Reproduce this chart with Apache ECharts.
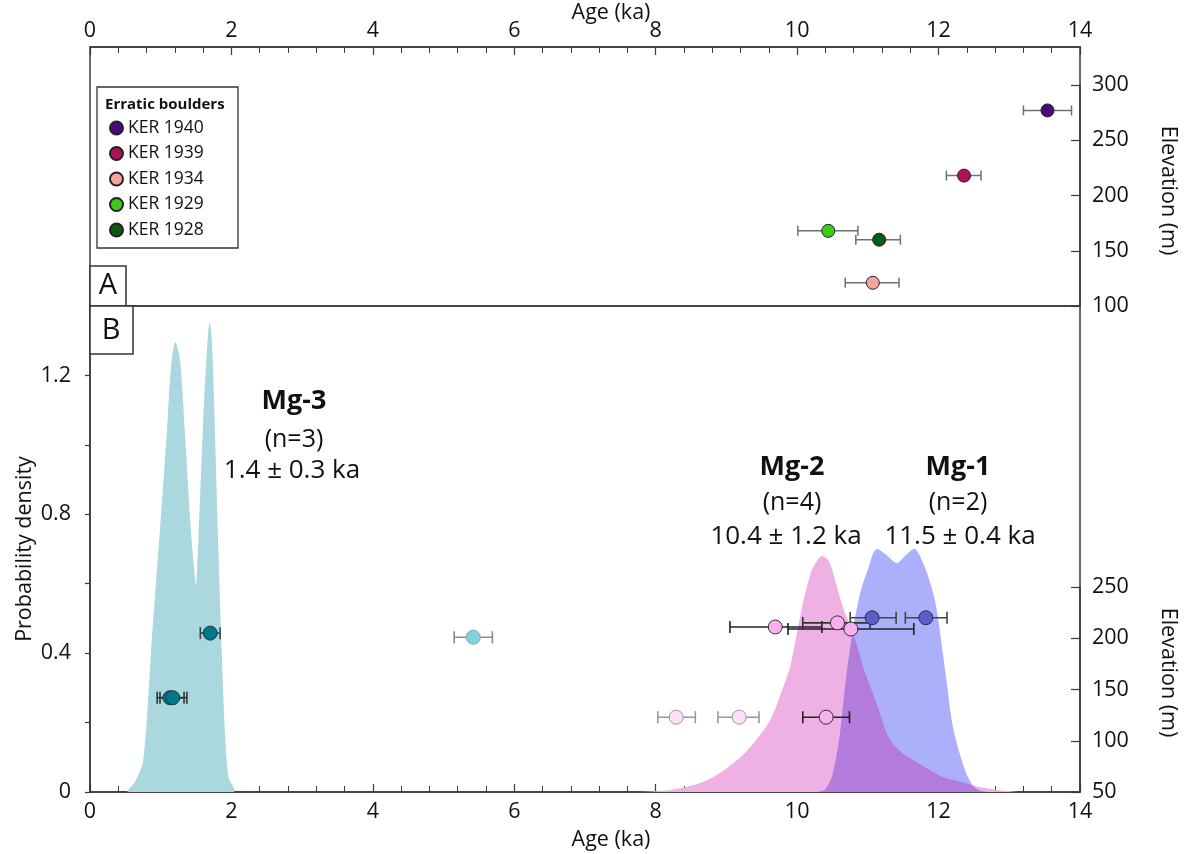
<!DOCTYPE html>
<html><head><meta charset="utf-8">
<script src="https://cdn.jsdelivr.net/npm/echarts@6/dist/echarts.min.js"></script>
<style>html,body{margin:0;padding:0;background:#fff}#chart{width:1192px;height:854px}</style>
</head><body><div id="chart"></div>
<script>
// ---------- Panel A: erratic boulders ----------
const boulderNames = ['KER 1940', 'KER 1939', 'KER 1934', 'KER 1929', 'KER 1928'];
const boulderAge = [13.54, 12.36, 11.07, 10.44, 11.16];
const boulderAgeLow = [13.20, 12.11, 10.68, 10.01, 10.83];
const boulderAgeHigh = [13.88, 12.60, 11.44, 10.86, 11.46];
const boulderElev = [277, 218, 121, 168, 160];

// ---------- Panel B: samples ----------
const sampleAge = [1.13, 1.17, 1.70, 5.42, 9.69, 10.57, 10.76, 11.06, 11.82, 8.29, 9.18, 10.41];
const sampleAgeLow = [0.95, 0.99, 1.56, 5.15, 9.05, 10.08, 9.87, 10.75, 11.53, 8.03, 8.88, 10.08];
const sampleAgeHigh = [1.33, 1.37, 1.84, 5.69, 10.35, 11.03, 11.65, 11.40, 12.12, 8.56, 9.46, 10.74];
const sampleElev = [142, 142, 205, 201, 211, 215, 209, 220, 220, 123, 123, 123];

// ---------- Panel B: probability density curves ----------
const mg3Age = [0.54, 0.64, 0.754, 0.88, 0.985, 1.085, 1.146, 1.207, 1.273, 1.344, 1.414, 1.47, 1.50, 1.532, 1.603, 1.66, 1.693, 1.726, 1.768, 1.815, 1.862, 1.909, 1.957, 2.03];
const mg3Dens = [0, 0.03, 0.092, 0.457, 0.745, 1.03, 1.224, 1.296, 1.243, 1.03, 0.79, 0.648, 0.596, 0.725, 1.08, 1.29, 1.353, 1.29, 1.03, 0.696, 0.409, 0.169, 0.044, 0];
const mg2Age = [7.8, 8.0, 8.2, 8.4, 8.6, 8.8, 9.0, 9.2, 9.4, 9.6, 9.7, 9.8, 9.9, 10.0, 10.1, 10.2, 10.3, 10.36, 10.45, 10.55, 10.65, 10.75, 10.85, 10.95, 11.05, 11.15, 11.3, 11.5, 11.7, 11.9, 12.1, 12.3, 12.5, 12.7, 12.9, 13.1];
const mg2Dens = [0, 0.002, 0.006, 0.013, 0.024, 0.042, 0.068, 0.1, 0.145, 0.2, 0.245, 0.3, 0.36, 0.46, 0.56, 0.635, 0.672, 0.68, 0.665, 0.6, 0.53, 0.48, 0.42, 0.35, 0.295, 0.24, 0.155, 0.11, 0.085, 0.06, 0.04, 0.03, 0.018, 0.01, 0.004, 0];
const mg1Age = [10.3, 10.4, 10.5, 10.6, 10.7, 10.8, 10.9, 11.0, 11.07, 11.13, 11.25, 11.41, 11.55, 11.67, 11.8, 11.9, 11.95, 12.0, 12.1, 12.2, 12.3, 12.4, 12.5, 12.6, 12.7];
const mg1Dens = [0, 0.008, 0.05, 0.16, 0.34, 0.48, 0.58, 0.64, 0.685, 0.70, 0.685, 0.66, 0.685, 0.70, 0.65, 0.59, 0.55, 0.49, 0.34, 0.19, 0.11, 0.05, 0.015, 0.003, 0];

// ---------- styles ----------
const FONT = "'Open Sans', 'Noto Sans', 'DejaVu Sans', sans-serif";
const AX = '#3a3a3a';
const SMOOTH = 0.3;
const boulderColors = ['#4a0a7e', '#b0125a', '#f9a29c', '#3dcc14', '#0b5b0d'];
const sampleFill = ['#007888', '#007888', '#007888', '#7dd3df', '#f9b0ef', '#f9b0ef', '#f9b0ef', '#5a5ec6', '#5a5ec6', '#fde0f8', '#fde0f8', '#f9b0ef'];
const sampleBorder = ['#1a3a40', '#1a3a40', '#1a3a40', '#8aa9ae', '#333', '#333', '#333', '#2a2a5a', '#2a2a5a', '#9a9a9a', '#9a9a9a', '#333'];
const sampleBar = ['#333', '#333', '#444', '#8a8a8a', '#222', '#333', '#222', '#444', '#444', '#999', '#999', '#222'];

function errorBars(xi, yi, lows, highs, elevs, colors, capHalf, width) {
  return {
    type: 'custom', xAxisIndex: xi, yAxisIndex: yi, silent: true, z: 3, clip: false,
    data: lows.map((l, i) => [l, highs[i], elevs[i]]),
    encode: { x: [0, 1], y: 2 },
    renderItem: function (params, api) {
      const lo = api.coord([api.value(0), api.value(2)]);
      const hi = api.coord([api.value(1), api.value(2)]);
      const style = { stroke: colors[params.dataIndex], lineWidth: width, fill: null };
      return { type: 'group', children: [
        { type: 'line', shape: { x1: lo[0], y1: lo[1], x2: hi[0], y2: hi[1] }, style: style },
        { type: 'line', shape: { x1: lo[0], y1: lo[1] - capHalf, x2: lo[0], y2: lo[1] + capHalf }, style: style },
        { type: 'line', shape: { x1: hi[0], y1: hi[1] - capHalf, x2: hi[0], y2: hi[1] + capHalf }, style: style }
      ]};
    }
  };
}

function curvePoints(api, ages, dens) {
  const pts = [];
  for (let i = 0; i < ages.length; i++) pts.push(api.coord([ages[i], dens[i]]));
  return pts;
}

function densityArea(ages, dens, color, z, clipAges, clipDens) {
  const data = ages.map((a, i) => [a, dens[i]]);
  return {
    type: 'custom', xAxisIndex: 2, yAxisIndex: 2, silent: true, z: z, clip: true,
    data: data, encode: { x: 0, y: 1 },
    renderItem: function (params, api) {
      if (params.dataIndex !== 0) return null;
      const el = { type: 'polygon', shape: { points: curvePoints(api, ages, dens), smooth: SMOOTH }, style: { fill: color, stroke: null } };
      if (clipAges) {
        el.clipPath = { type: 'polygon', shape: { points: curvePoints(api, clipAges, clipDens), smooth: SMOOTH } };
      }
      return el;
    }
  };
}

const labelStyle = { fontSize: 21.5, color: '#111', fontFamily: FONT };
function nameStyle(padding) {
  return { fontSize: 21.5, color: '#111', fontFamily: FONT, padding: padding || 0 };
}

function ageAxis(grid, pos, nameGap, margin) {
  return {
    type: 'value', gridIndex: grid, min: 0, max: 14, interval: 2, position: pos,
    splitLine: { show: false },
    axisLine: { show: true, onZero: false, lineStyle: { color: AX, width: 1.5 } },
    axisTick: { show: true, inside: true, length: 8, lineStyle: { color: AX, width: 1.2 } },
    minorTick: { show: true, splitNumber: 5, length: 6, lineStyle: { color: AX, width: 1 } },
    axisLabel: Object.assign({ margin: margin }, labelStyle),
    name: 'Age (ka)', nameLocation: 'middle', nameGap: nameGap, nameMoveOverlap: false,
    nameTextStyle: nameStyle([0, 0, 0, 52])
  };
}

const chart = echarts.init(document.getElementById('chart'), null, { renderer: 'canvas' });

const grids = [
  { left: 90, right: 112, top: 47, height: 259, show: true, borderColor: AX, borderWidth: 1.5, outerBoundsMode: 'none' },
  { left: 90, right: 112, top: 85, height: 221, outerBoundsMode: 'none' },
  { left: 90, right: 112, top: 306, height: 486, show: true, borderColor: AX, borderWidth: 1.5, outerBoundsMode: 'none' },
  { left: 90, right: 112, top: 587, height: 205, outerBoundsMode: 'none' }
];

const xAxes = [
  ageAxis(0, 'top', 23, 5),
  { type: 'value', gridIndex: 1, min: 0, max: 14, show: false, axisLine: { onZero: false } },
  ageAxis(2, 'bottom', 37, 9),
  { type: 'value', gridIndex: 3, min: 0, max: 14, show: false, axisLine: { onZero: false } }
];

function elevAxis(grid, min, max, namePad) {
  return {
    type: 'value', gridIndex: grid, min: min, max: max, interval: 50, position: 'right',
    splitLine: { show: false },
    axisLine: { show: true, onZero: false, lineStyle: { color: AX, width: 1.5 } },
    axisTick: { show: true, inside: true, length: 9, lineStyle: { color: AX, width: 1.2 } },
    axisLabel: Object.assign({ margin: 12 }, labelStyle),
    name: 'Elevation (m)', nameLocation: 'middle', nameGap: 77, nameRotate: -90, nameMoveOverlap: false,
    nameTextStyle: nameStyle(namePad)
  };
}

const yAxes = [
  { type: 'value', gridIndex: 0, min: 0, max: 1, show: false, axisLine: { onZero: false } },
  elevAxis(1, 100, 300, [0, 10, 0, 0]),
  {
    type: 'value', gridIndex: 2, min: 0, max: 1.4, interval: 0.2, position: 'left',
    splitLine: { show: false },
    axisLine: { show: true, onZero: false, lineStyle: { color: AX, width: 1.5 } },
    axisTick: { show: true, inside: false, length: 5, lineStyle: { color: AX, width: 1.2 } },
    axisLabel: Object.assign({ margin: 19, showMaxLabel: false,
      formatter: function (v) {
        const k = Math.round(v * 10);
        if (k % 4 !== 0 || k > 13) return '';
        return k === 0 ? '0' : (k / 10).toFixed(1);
      } }, labelStyle),
    name: 'Probability density', nameLocation: 'middle', nameGap: 54, nameMoveOverlap: false,
    nameTextStyle: nameStyle(0)
  },
  elevAxis(3, 50, 250, [0, 34, 0, 0])
];

const series = [];
// density areas (Mg-1 ∩ Mg-2 overlap drawn as Mg-2 clipped by Mg-1)
series.push(densityArea(mg3Age, mg3Dens, '#abd7de', 1));
series.push(densityArea(mg2Age, mg2Dens, '#efb0e3', 1));
series.push(densityArea(mg1Age, mg1Dens, '#acb0fb', 1));
series.push(densityArea(mg2Age, mg2Dens, '#b37bdc', 2, mg1Age, mg1Dens));

// panel A error bars + points
series.push(errorBars(1, 1, boulderAgeLow, boulderAgeHigh, boulderElev, boulderNames.map(() => '#707070'), 5, 1.5));
boulderNames.forEach(function (n, i) {
  series.push({
    type: 'scatter', name: n, xAxisIndex: 1, yAxisIndex: 1, z: 5,
    symbol: 'circle', symbolSize: 13,
    itemStyle: { color: boulderColors[i], borderColor: '#222', borderWidth: 1, opacity: 1 },
    data: [[boulderAge[i], boulderElev[i]]]
  });
});

// panel B error bars + points
series.push(errorBars(3, 3, sampleAgeLow, sampleAgeHigh, sampleElev, sampleBar, 6, 1.6));
series.push({
  type: 'scatter', xAxisIndex: 3, yAxisIndex: 3, z: 5, symbol: 'circle', symbolSize: 14,
  data: sampleAge.map(function (a, i) {
    return { value: [a, sampleElev[i]], itemStyle: { color: sampleFill[i], borderColor: sampleBorder[i], borderWidth: 1, opacity: 1 } };
  })
});

const ann = function (x, y, text, size, bold) {
  return { type: 'text', x: x, y: y, z: 50,
    style: { text: text, fill: '#111', font: (bold ? 'bold ' : '') + size + 'px ' + FONT, textAlign: 'center', textVerticalAlign: 'middle', align: 'center', verticalAlign: 'middle' } };
};

const graphics = [
  // legend box
  { type: 'rect', shape: { x: 97, y: 87, width: 141, height: 161 }, style: { fill: '#fff', stroke: '#333', lineWidth: 1.3 }, z: 10 },
  { type: 'text', x: 105, y: 105, z: 11, style: { text: 'Erratic boulders', fill: '#111', font: 'bold 15px ' + FONT, verticalAlign: 'middle', textVerticalAlign: 'middle' } },
  // panel letters
  { type: 'rect', shape: { x: 90, y: 266, width: 36, height: 40 }, style: { fill: '#fff', stroke: '#333', lineWidth: 1.5 }, z: 10 },
  ann(108, 286, 'A', 29, false),
  { type: 'rect', shape: { x: 90, y: 306, width: 43, height: 48 }, style: { fill: '#fff', stroke: '#333', lineWidth: 1.5 }, z: 10 },
  ann(111, 331, 'B', 29, false),
  // group annotations
  ann(294, 401, 'Mg-3', 27, true), ann(294, 440, '(n=3)', 25, false), ann(292, 471, '1.4 ± 0.3 ka', 26, false),
  ann(792, 467, 'Mg-2', 27, true), ann(792, 503, '(n=4)', 25, false), ann(786, 537, '10.4 ± 1.2 ka', 26, false),
  ann(958, 467, 'Mg-1', 27, true), ann(958, 503, '(n=2)', 25, false), ann(960, 537, '11.5 ± 0.4 ka', 26, false)
];

chart.setOption({
  backgroundColor: '#ffffff',
  animation: false,
  textStyle: { fontFamily: FONT },
  grid: grids,
  xAxis: xAxes,
  yAxis: yAxes,
  legend: {
    data: boulderNames, orient: 'vertical', left: 109, top: 119, itemGap: 7.5, padding: 0,
    itemWidth: 13, itemHeight: 13, icon: 'circle', selectedMode: false, z: 12,
    textStyle: { fontSize: 17.5, color: '#111', fontFamily: FONT }
  },
  graphic: graphics,
  series: series
});
</script>
</body></html>
